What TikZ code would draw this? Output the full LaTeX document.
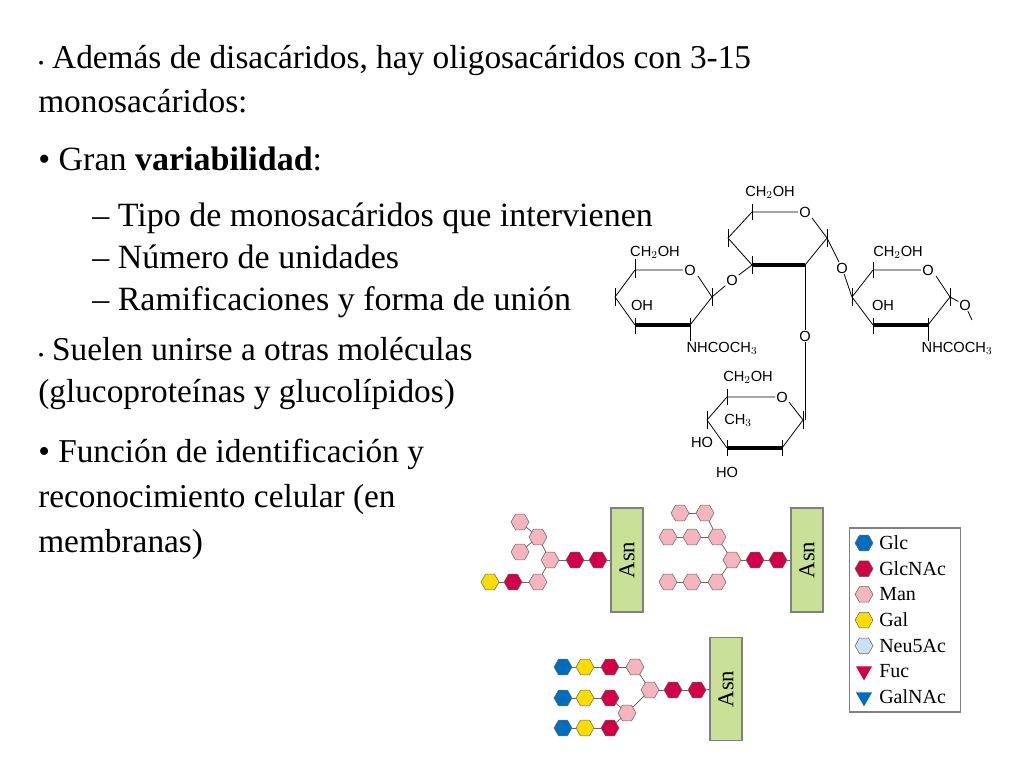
\documentclass[tikz,border=0pt]{standalone}
\usepackage{fontspec}
\setmainfont{Liberation Serif}
\setsansfont{Liberation Sans}
\usetikzlibrary{shapes.geometric}
\definecolor{glc}{RGB}{0,110,190}
\definecolor{glcnac}{RGB}{210,0,70}
\definecolor{man}{RGB}{245,180,190}
\definecolor{gal}{RGB}{250,220,0}
\definecolor{neu}{RGB}{200,225,245}
\definecolor{asnfill}{RGB}{200,225,150}
\tikzset{
  bodytext/.style={anchor=base west,font=\fontsize{25.5}{30}\selectfont,inner sep=0pt},
  smalltext/.style={anchor=base west,font=\fontsize{25}{30}\selectfont,inner sep=0pt},
  chem/.style={font=\sffamily\fontsize{11}{12}\selectfont,inner sep=0.5pt},
  ring/.style={line width=0.6pt},
  front/.style={line width=3pt},
  res/.style={regular polygon,regular polygon sides=6,minimum size=13.5pt,
              inner sep=0pt,draw=black!60,line width=0.4pt},
  Glc/.style={res,fill=glc},
  GlcNAc/.style={res,fill=glcnac},
  Man/.style={res,fill=man},
  Gal/.style={res,fill=gal},
  Neu/.style={res,fill=neu},
  tri/.style={regular polygon,regular polygon sides=3,shape border rotate=180,
              minimum size=14pt,inner sep=0pt},
  bond/.style={draw=black!60,line width=0.6pt},
  asnbox/.style={draw=black!50,fill=asnfill,line width=1pt,
                 minimum width=24pt,font=\fontsize{17}{17}\selectfont},
  legtext/.style={anchor=west,font=\fontsize{15}{15}\selectfont,inner sep=0pt},
}
\begin{document}
\begin{tikzpicture}[x=0.75pt,y=-0.75pt]
  \useasboundingbox (0,0) rectangle (1024,768);

  % text column
  \node[smalltext] (l1) at (38,68) {{\fontsize{12}{12}\selectfont\textbullet}\ Además de disacáridos, hay oligosacáridos con 3-15};
  \node[smalltext] (l2) at (38,112) {monosacáridos:};
  \node[bodytext] (l3) at (38,170) {\textbullet\ Gran \textbf{variabilidad}:};
  \node[bodytext] (l4) at (92,226) {–\ Tipo de monosacáridos que intervienen};
  \node[bodytext] (l5) at (92,268) {–\ Número de unidades};
  \node[bodytext] (l6) at (92,310) {–\ Ramificaciones y forma de unión};
  \node[smalltext] (l7) at (38,360) {{\fontsize{12}{12}\selectfont\textbullet}\ Suelen unirse a otras moléculas};
  \node[smalltext] (l8) at (38,402) {(glucoproteínas y glucolípidos)};
  \node[smalltext] (l9) at (38,462) {\textbullet\ Función de identificación y};
  \node[smalltext] (l10) at (38,507) {reconocimiento celular (en};
  \node[smalltext] (l11) at (38,552) {membranas)};

  % left ring
  \draw[ring] (683,270) -- (635,270) -- (615,297) (712,297) -- (698,276);
  \draw[ring] (615,297) -- (635,325) (690,325) -- (712,297);
  \draw[front] (635,325) -- (690,325);
  \draw[ring] (635,262) -- (635,278) (615,288) -- (615,306) (712,288) -- (712,306)
              (635,318) -- (635,334) (690,318) -- (690,334);
  \node[chem] (ch1) at (655,252) {CH$_2$OH};
  \node[chem] (o1) at (690,270) {O};
  \node[chem] (oh1) at (642,305) {OH};
  \node[chem] (nh1) at (722,348) {NHCOCH$_3$};
  \draw[ring] (635,262) -- (ch1.south -| 635,262);
  \draw[ring] (690,325) -- (nh1.north -| 690,325);

  % middle ring
  \draw[ring] (798,212) -- (752,212) -- (728,238) (827,238) -- (812,218);
  \draw[ring] (728,238) -- (752,265) (805,265) -- (827,238);
  \draw[front] (752,265) -- (805,265);
  \draw[ring] (752,204) -- (752,220) (728,229) -- (728,247) (827,229) -- (827,247)
              (752,256) -- (752,274);
  \node[chem] (ch2) at (770,192) {CH$_2$OH};
  \node[chem] (o2) at (805,212) {O};
  \node[chem] (lnk1) at (732,280) {O};
  \node[chem] (lnk2) at (842,268) {O};
  \node[chem] (lnk3) at (805,336) {O};
  \draw[ring] (712,297) -- (lnk1) -- (752,265);
  \draw[ring] (827,238) -- (lnk2) -- (852,297);
  \draw[ring] (805,265) -- (lnk3) -- (805,420);

  % right ring
  \draw[ring] (921,270) -- (873,270) -- (852,297) (950,297) -- (936,276);
  \draw[ring] (852,297) -- (873,325) (928,325) -- (950,297);
  \draw[front] (873,325) -- (928,325);
  \draw[ring] (873,262) -- (873,278) (852,288) -- (852,306) (950,288) -- (950,306)
              (873,318) -- (873,334) (928,318) -- (928,334);
  \node[chem] (ch3) at (898,252) {CH$_2$OH};
  \node[chem] (o3) at (928,270) {O};
  \node[chem] (oh3) at (883,305) {OH};
  \node[chem] (nh3) at (957,348) {NHCOCH$_3$};
  \node[chem] (o4) at (965,305) {O};
  \draw[ring] (950,297) -- (o4);
  \draw[ring] (o4) -- (972,320);
  \draw[ring] (928,325) -- (nh3.north -| 928,325);

  % bottom ring
  \draw[ring] (775,397) -- (727,397) -- (707,420) (803,420) -- (789,402);
  \draw[ring] (707,420) -- (727,448) (782,448) -- (803,420);
  \draw[front] (727,448) -- (782,448);
  \draw[ring] (727,389) -- (727,405) (707,411) -- (707,429) (803,411) -- (803,429)
              (727,440) -- (727,456) (782,440) -- (782,456);
  \node[chem] (ch4) at (748,377) {CH$_2$OH};
  \node[chem] (o5) at (782,397) {O};
  \node[chem] (me4) at (738,420) {CH$_3$};
  \node[chem] (ho4) at (702,442) {HO};
  \node[chem] (ho5) at (727,472) {HO};

  % glycan A
  \node[asnbox,minimum height=78pt] (asnA) at (627,560) {\rotatebox{90}{Asn}};
  \foreach \n/\x/\y/\s in {a1/598/560/GlcNAc, a2/575/560/GlcNAc, a3/550/560/Man,
      a4/538/537/Man, a5/520/522/Man, a6/520/552/Man, a7/538/582/Man,
      a8/513/582/GlcNAc, a9/490/582/Gal}
    \node[\s] (\n) at (\x,\y) {};
  \foreach \p/\q in {asnA/a1, a1/a2, a2/a3, a3/a4, a4/a5, a4/a6, a3/a7, a7/a8, a8/a9}
    \draw[bond] (\p) -- (\q);

  % glycan B
  \node[asnbox,minimum height=78pt] (asnB) at (807,560) {\rotatebox{90}{Asn}};
  \foreach \n/\x/\y/\s in {b1/778/560/GlcNAc, b2/755/560/GlcNAc, b3/732/560/Man,
      b4/717/537/Man, b5/692/537/Man, b6/668/537/Man, b7/705/513/Man, b8/680/513/Man,
      b9/717/582/Man, b10/692/582/Man, b11/668/582/Man}
    \node[\s] (\n) at (\x,\y) {};
  \foreach \p/\q in {asnB/b1, b1/b2, b2/b3, b3/b4, b4/b5, b5/b6, b4/b7, b7/b8,
      b3/b9, b9/b10, b10/b11}
    \draw[bond] (\p) -- (\q);

  % glycan C
  \node[asnbox,minimum height=77pt] (asnC) at (726,689) {\rotatebox{90}{Asn}};
  \foreach \n/\x/\y/\s in {c1/697/690/GlcNAc, c2/673/690/GlcNAc, c3/650/690/Man,
      c4/635/667/Man, c5/610/667/GlcNAc, c6/585/667/Gal, c7/563/667/Glc,
      c8/627/713/Man, c9/610/698/GlcNAc, c10/585/698/Gal, c11/563/698/Glc,
      c12/610/728/GlcNAc, c13/585/728/Gal, c14/563/728/Glc}
    \node[\s] (\n) at (\x,\y) {};
  \foreach \p/\q in {asnC/c1, c1/c2, c2/c3, c3/c4, c4/c5, c5/c6, c6/c7, c3/c8,
      c8/c9, c9/c10, c10/c11, c8/c12, c12/c13, c13/c14}
    \draw[bond] (\p) -- (\q);

  % legend
  \node[draw=black!50,line width=0.8pt,minimum width=83pt,minimum height=138pt]
      (legend) at (905,620) {};
  \foreach \i/\s/\t in {0/Glc/Glc, 1/GlcNAc/GlcNAc, 2/Man/Man, 3/Gal/Gal, 4/Neu/Neu5Ac}
  {
    \node[\s] (key\i) at (864,543+25.7*\i) {};
    \node[legtext] (lab\i) at (879,543+25.7*\i) {\t};
  }
  \node[tri,fill=glcnac] (key5) at (864,671) {};
  \node[legtext] (lab5) at (879,671) {Fuc};
  \node[tri,fill=glc] (key6) at (864,697) {};
  \node[legtext] (lab6) at (879,697) {GalNAc};
\end{tikzpicture}
\end{document}
